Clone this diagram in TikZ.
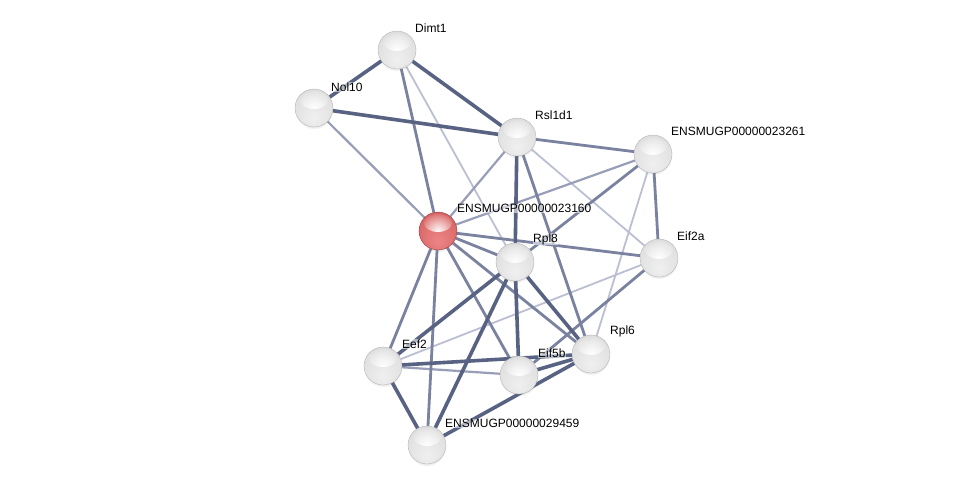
\documentclass[tikz,border=0pt]{standalone}
\usepackage{fontspec}
\setmainfont{Liberation Sans}
\usetikzlibrary{fadings,shadows}
\pgfdeclarelayer{bg}
\pgfsetlayers{bg,main}
\definecolor{edark}{RGB}{88,98,130}
\definecolor{emid}{RGB}{122,130,160}
\definecolor{elight}{RGB}{152,158,184}
\definecolor{ethin}{RGB}{187,191,210}
\definecolor{r0}{RGB}{238,134,134}
\definecolor{r1}{RGB}{218,104,104}
\definecolor{r2}{RGB}{198,84,84}
\definecolor{r3}{RGB}{168,60,60}
\definecolor{r4}{RGB}{132,40,40}
\pgfdeclareradialshading{sball}{\pgfpoint{0bp}{-14bp}}{%
  color(0bp)=(gray!12); color(28bp)=(gray!24); color(44bp)=(gray!36);
  color(54bp)=(gray!55); color(66bp)=(gray!70)}
\pgfdeclareradialshading{sred}{\pgfpoint{0bp}{-14bp}}{%
  color(0bp)=(r0); color(28bp)=(r1); color(44bp)=(r2);
  color(54bp)=(r3); color(66bp)=(r4)}
\tikzfading[name=hlfade, inner color=transparent!0, outer color=transparent!100]
\begin{document}
\begin{tikzpicture}[x=1pt,y=-1pt,
  prot/.style={circle,minimum size=38pt,inner sep=0pt,shading=sball,draw=gray!65,line width=0.3pt,
    circular drop shadow={opacity=0.18,shadow xshift=0pt,shadow yshift=-2pt,shadow scale=1.02},
    path picture={\fill[white,opacity=0.95,path fading=hlfade,fit fading=true]
      ([yshift=8pt]path picture bounding box.center) ellipse (14pt and 9pt);}},
  protred/.style={prot,shading=sred,draw=r4},
  lbl/.style={anchor=south west,inner sep=0.6pt,fill=white,fill opacity=0.55,text opacity=1,
    font=\fontsize{12}{14}\selectfont},
  e4/.style={draw=edark,line width=3.6pt},
  e3/.style={draw=emid,line width=2.8pt},
  e2/.style={draw=elight,line width=2.2pt},
  e1/.style={draw=ethin,line width=1.8pt}]
\useasboundingbox (0,0) rectangle (976,491);
\node[prot] (D) at (397,50) {};
\node[prot] (N) at (314,108) {};
\node[prot] (R) at (517,137) {};
\node[prot] (E261) at (653,154) {};
\node[protred] (E160) at (438,231) {};
\node[prot] (P8) at (515,262) {};
\node[prot] (A) at (659,258) {};
\node[prot] (P6) at (591,354) {};
\node[prot] (E2) at (383,366) {};
\node[prot] (B) at (519,375) {};
\node[prot] (E459) at (427,445) {};
\node[lbl] (lD) at (414.4,33.6) {Dimt1};
\node[lbl] (lN) at (330.4,92.6) {Nol10};
\node[lbl] (lR) at (534.4,120.6) {Rsl1d1};
\node[lbl] (lE261) at (670.4,136.6) {ENSMUGP00000023261};
\node[lbl] (lE160) at (456.4,213.6) {ENSMUGP00000023160};
\node[lbl] (lP8) at (532.4,245.6) {Rpl8};
\node[lbl] (lA) at (676.4,241.6) {Eif2a};
\node[lbl] (lP6) at (609.4,337.6) {Rpl6};
\node[lbl] (lE2) at (401.4,349.6) {Eef2};
\node[lbl] (lB) at (537.4,358.6) {Eif5b};
\node[lbl] (lE459) at (444.4,428.6) {ENSMUGP00000029459};
\begin{pgfonlayer}{bg}
\fill[white] (0,0) rectangle (976,491);
% thin light
\path[e1] (D) -- (P8);
\path[e1] (R) -- (A);
\path[e1] (E261) -- (P6);
\path[e1] (A) -- (E2);
% light
\path[e2] (N) -- (E160);
\path[e2] (R) -- (E160);
\path[e2] (E261) -- (E160);
\path[e2] (E2) -- (B);
% medium
\path[e3] (D) -- (E160);
\path[e3] (R) -- (E261);
\path[e3] (E261) -- (P8);
\path[e3] (E160) -- (E459);
\path[e3] (E160) -- (P8);
\path[e3] (E160) -- (A);
\path[e3] (R) -- (P6);
\path[e3] (E261) -- (A);
\path[e3] (A) -- (B);
\path[e3] (E160) -- (E2);
\path[e3] (E160) -- (B);
\path[e3] (E160) -- (P6);
% thick
\path[e4] (D) -- (N);
\path[e4] (D) -- (R);
\path[e4] (N) -- (R);
\path[e4] (R) -- (P8);
\path[e4] (P8) -- (E2);
\path[e4] (P8) -- (E459);
\path[e4] (P8) -- (B);
\path[e4] (P8) -- (P6);
\path[e4] (E2) -- (P6);
\path[e4] (E2) -- (E459);
\path[e4] (B) -- (P6);
\path[e4] (E459) -- (P6);
\end{pgfonlayer}
\end{tikzpicture}
\end{document}
